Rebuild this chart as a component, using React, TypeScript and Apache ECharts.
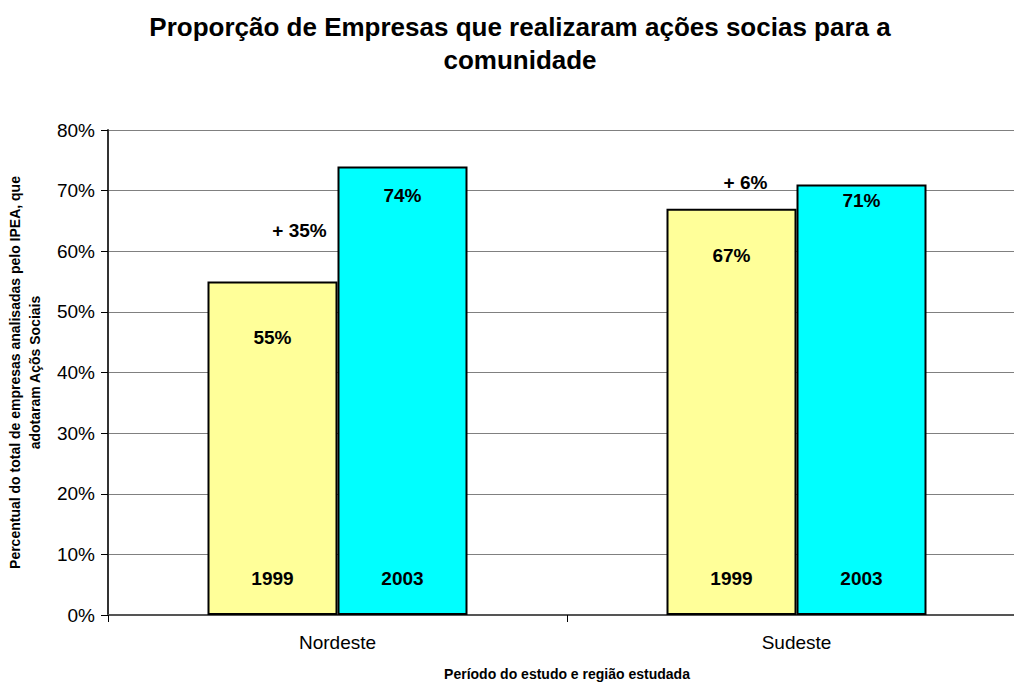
import React, { useEffect, useRef } from "react";
import * as echarts from "echarts";

const categories = ["Nordeste", "Sudeste"];
const values1999 = [55, 67];
const values2003 = [74, 71];
const seriesNames = ["1999", "2003"];
const yearLabelHeight = [12, 12];
const growthLabels = ["+ 35%", "+ 6%"];
const growthLabelValues = [63.4, 71.3];
const yTickLabels = ["0%", "10%", "20%", "30%", "40%", "50%", "60%", "70%", "80%"];

const FONT = "'Liberation Sans', Arial, Helvetica, sans-serif";

export default function App() {
  const ref = useRef<HTMLDivElement>(null);

  useEffect(() => {
    if (!ref.current) return;
    const chart = echarts.init(ref.current, undefined, { renderer: "svg" });

    const valueLabel = (distances: number[]) => (vals: number[]) =>
      vals.map((v, i) => ({
        value: v,
        label: {
          show: true,
          position: "insideTop",
          distance: distances[i],
          formatter: "{c}%",
          fontFamily: FONT,
          fontSize: 19,
          fontWeight: "bold",
          color: "#000",
        },
      }));

    const option: any = {
      animation: false,
      backgroundColor: "#fff",
      title: {
        text: "Proporção de Empresas que realizaram ações socias para a\ncomunidade",
        left: 515,
        top: 5,
        textAlign: "center",
        textStyle: {
          fontFamily: FONT,
          fontSize: 26,
          fontWeight: "bold",
          color: "#000",
          lineHeight: 33,
        },
      },
      grid: {
        left: 108,
        top: 130,
        width: 918,
        height: 485,
        containLabel: false,
        outerBoundsMode: "none",
      },
      xAxis: [
        {
          type: "category",
          data: categories,
          name: "Período do estudo e região estudada",
          nameLocation: "middle",
          nameGap: 52,
          nameTextStyle: { fontFamily: FONT, fontSize: 14, fontWeight: "bold", color: "#000" },
          axisLine: { lineStyle: { color: "#555", width: 2 } },
          axisTick: { show: true, length: 7, lineStyle: { color: "#000" } },
          axisLabel: { margin: 18, fontFamily: FONT, fontSize: 19, color: "#000" },
        },
        { type: "category", data: categories, show: false },
      ],
      yAxis: {
        type: "value",
        min: 0,
        max: 80,
        interval: 10,
        name: "Percentual do total de empresas analisadas pelo IPEA, que\nadotaram Açõs Sociais",
        nameLocation: "middle",
        nameGap: 63,
        nameTextStyle: { fontFamily: FONT, fontSize: 14, fontWeight: "bold", color: "#000", lineHeight: 20 },
        axisLine: { show: true, lineStyle: { color: "#333", width: 2 } },
        axisTick: { show: true, length: 7, lineStyle: { color: "#000" } },
        axisLabel: {
          margin: 13,
          fontFamily: FONT,
          fontSize: 19,
          color: "#000",
          formatter: (v: number) => yTickLabels[Math.round(v / 10)],
        },
        splitLine: { show: true, lineStyle: { color: "#808080", width: 1 } },
      },
      series: [
        {
          name: seriesNames[0],
          type: "bar",
          xAxisIndex: 0,
          barWidth: 130,
          barGap: "0%",
          itemStyle: { color: "#FFFF99", borderColor: "#000", borderWidth: 2 },
          data: valueLabel([46, 37])(values1999),
          markPoint: {
            symbol: "rect",
            symbolSize: 1,
            silent: true,
            itemStyle: { color: "rgba(0,0,0,0)" },
            data: categories.map((c, i) => ({
              name: growthLabels[i],
              coord: [c, growthLabelValues[i]],
              value: growthLabelValues[i],
              label: {
                show: true,
                position: "inside",
                formatter: growthLabels[i],
                offset: [i === 0 ? 27 : 14, 0],
                fontFamily: FONT,
                fontSize: 19,
                fontWeight: "bold",
                color: "#000",
              },
            })),
          },
        },
        {
          name: seriesNames[1],
          type: "bar",
          xAxisIndex: 0,
          barWidth: 130,
          barGap: "0%",
          itemStyle: { color: "#00FFFF", borderColor: "#000", borderWidth: 2 },
          data: valueLabel([20, 6])(values2003),
        },
        ...seriesNames.map((n) => ({
          name: n + " label",
          type: "bar",
          xAxisIndex: 1,
          barWidth: 130,
          barGap: "0%",
          silent: true,
          itemStyle: { color: "rgba(0,0,0,0)", borderWidth: 0 },
          label: {
            show: true,
            position: "inside",
            formatter: n,
            fontFamily: FONT,
            fontSize: 19,
            fontWeight: "bold",
            color: "#000",
          },
          data: yearLabelHeight,
        })),
      ],
    };

    chart.setOption(option);
    return () => chart.dispose();
  }, []);

  return (
    <div
      ref={ref}
      style={{ position: "fixed", left: 0, top: 0, width: 1014, height: 682, background: "#fff" }}
    />
  );
}
